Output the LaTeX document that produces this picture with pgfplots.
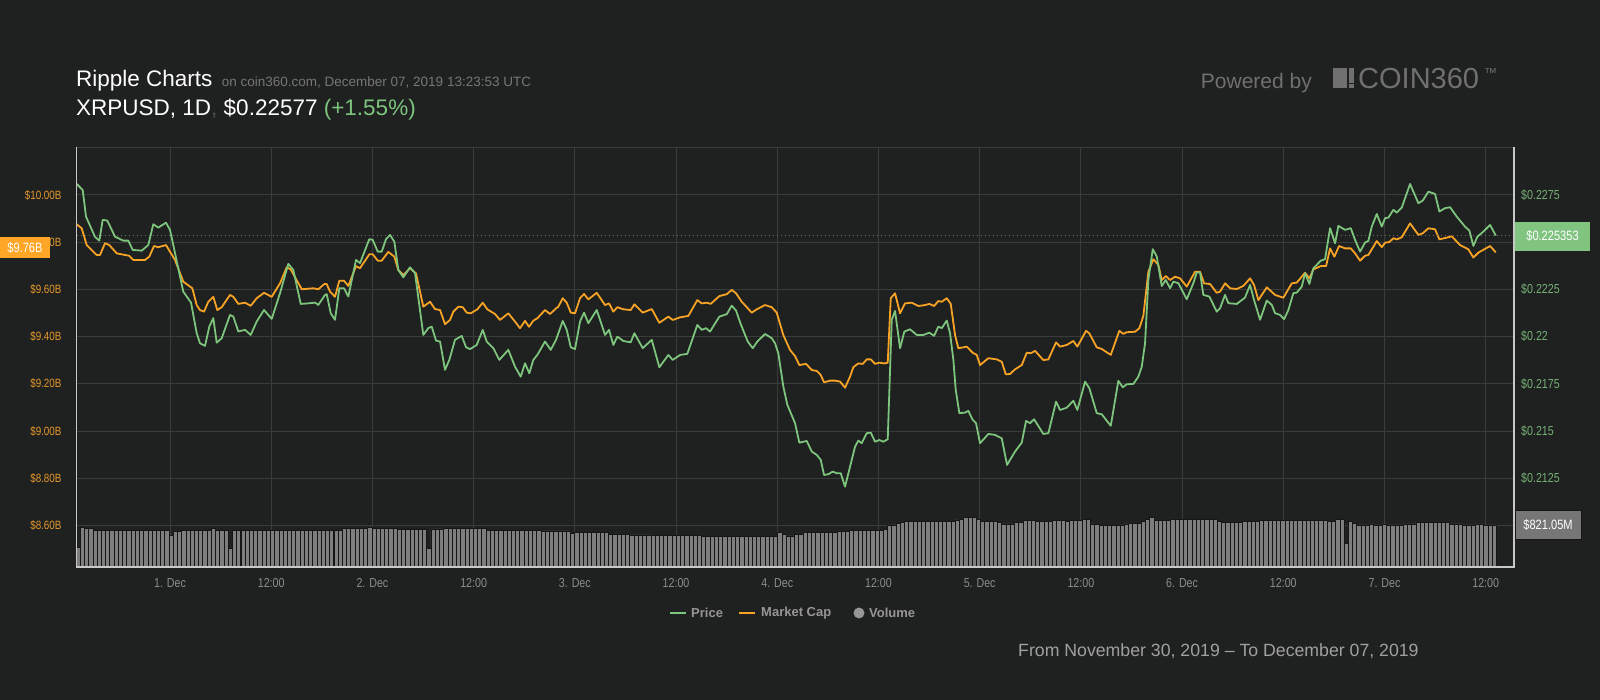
\documentclass[border=0pt]{standalone}
\usepackage{pgfplots}
\pgfplotsset{compat=1.18}
\usepackage{pgfplotstable}
\usepackage{fontspec}
\setmainfont{Liberation Sans}
\newfontfamily\cond[FakeStretch=0.82]{Liberation Sans}
\definecolor{bg}{RGB}{31,32,32}
\definecolor{gridc}{RGB}{58,59,59}
\definecolor{orangeL}{RGB}{247,163,38}
\definecolor{greenL}{RGB}{125,196,125}
\definecolor{orangeT}{RGB}{228,153,44}
\definecolor{greenT}{RGB}{118,178,118}
\definecolor{tickgray}{RGB}{140,140,140}
\definecolor{subgray}{RGB}{118,118,118}
\definecolor{logogray}{RGB}{112,112,112}
\definecolor{volgray}{RGB}{126,126,126}
\definecolor{axisc}{RGB}{200,200,200}
\definecolor{legc}{RGB}{150,150,150}
\definecolor{boxorange}{RGB}{255,166,38}
\definecolor{boxgreen}{RGB}{128,196,128}
\definecolor{boxgray}{RGB}{118,118,118}
\definecolor{dimc}{RGB}{80,80,80}
\definecolor{fromc}{RGB}{160,160,160}
\definecolor{dotc}{RGB}{110,110,110}
\definecolor{bardark}{RGB}{22,22,22}

\pgfplotstableread{
d p
0.5390 0.22808
0.5687 0.22776
0.5850 0.22635
0.6294 0.22528
0.6507 0.22508
0.6675 0.22618
0.6902 0.22614
0.7283 0.22529
0.7693 0.22508
0.7940 0.22508
0.8157 0.22459
0.8602 0.22455
0.8928 0.22485
0.9175 0.22595
0.9422 0.22577
0.9802 0.22603
1.0000 0.22565
1.0657 0.22238
1.1038 0.22180
1.1319 0.22018
1.1482 0.21965
1.1729 0.21951
1.1942 0.22053
1.2139 0.22098
1.2307 0.21968
1.2554 0.21992
1.2964 0.22115
1.3128 0.22106
1.3375 0.22027
1.3706 0.22036
1.3987 0.22009
1.4284 0.22080
1.4644 0.22141
1.5025 0.22094
1.5435 0.22230
1.5845 0.22385
1.6092 0.22353
1.6458 0.22173
1.6917 0.22177
1.7164 0.22180
1.7327 0.22168
1.7658 0.22221
1.7742 0.22225
1.7940 0.22124
1.8152 0.22089
1.8365 0.22256
1.8597 0.22256
1.8809 0.22212
1.9190 0.22406
1.9387 0.22389
1.9847 0.22516
2.0015 0.22512
2.0262 0.22450
2.0460 0.22450
2.0672 0.22516
2.0870 0.22538
2.1082 0.22503
2.1280 0.22353
2.1527 0.22314
2.1858 0.22367
2.2105 0.22336
2.2515 0.22009
2.2762 0.22045
2.2930 0.22053
2.3142 0.21979
2.3340 0.21974
2.3587 0.21824
2.3799 0.21877
2.4081 0.21983
2.4412 0.22004
2.4625 0.21944
2.4822 0.21934
2.5153 0.21956
2.5450 0.22036
2.5647 0.21974
2.5973 0.21939
2.6270 0.21877
2.6714 0.21930
2.7045 0.21841
2.7327 0.21788
2.7540 0.21859
2.7752 0.21806
2.7950 0.21877
2.8147 0.21903
2.8528 0.21974
2.8809 0.21930
2.9071 0.21983
2.9402 0.22083
2.9600 0.22036
2.9798 0.21944
3.0010 0.21934
3.0257 0.22080
3.0455 0.22127
3.0667 0.22071
3.1082 0.22141
3.1492 0.22009
3.1690 0.22036
3.1902 0.21956
3.2100 0.22000
3.2396 0.21977
3.2762 0.21970
3.2940 0.22018
3.3355 0.21939
3.3800 0.21983
3.4175 0.21838
3.4620 0.21903
3.4837 0.21877
3.5198 0.21903
3.5558 0.21909
3.6052 0.22062
3.6270 0.22036
3.6482 0.22045
3.6680 0.22027
3.7140 0.22106
3.7505 0.22119
3.7752 0.22164
3.7964 0.22138
3.8197 0.22066
3.8543 0.21974
3.8790 0.21939
3.9017 0.21974
3.9397 0.22014
3.9728 0.21992
3.9891 0.21965
4.0054 0.21912
4.0301 0.21736
4.0499 0.21639
4.0880 0.21542
4.1092 0.21439
4.1458 0.21448
4.1705 0.21392
4.1952 0.21374
4.2149 0.21348
4.2312 0.21268
4.2525 0.21272
4.2742 0.21286
4.2940 0.21277
4.3137 0.21277
4.3350 0.21206
4.3597 0.21312
4.3844 0.21418
4.4007 0.21450
4.4175 0.21436
4.4422 0.21489
4.4620 0.21492
4.4832 0.21444
4.5045 0.21453
4.5242 0.21444
4.5459 0.21457
4.5573 0.21824
4.5657 0.22089
4.5820 0.22136
4.6067 0.21939
4.6280 0.22027
4.6561 0.22039
4.6892 0.22009
4.7219 0.22009
4.7515 0.22021
4.7747 0.22004
4.7960 0.22053
4.8128 0.22045
4.8375 0.22085
4.8538 0.22018
4.8701 0.21877
4.8819 0.21718
4.8997 0.21595
4.9279 0.21598
4.9442 0.21607
4.9659 0.21559
4.9822 0.21542
5.0020 0.21436
5.0430 0.21485
5.0761 0.21480
5.1092 0.21462
5.1354 0.21321
5.1502 0.21348
5.1749 0.21392
5.2080 0.21439
5.2292 0.21554
5.2490 0.21542
5.2688 0.21563
5.3147 0.21485
5.3394 0.21489
5.3775 0.21656
5.3972 0.21612
5.4303 0.21624
5.4629 0.21661
5.4827 0.21612
5.5208 0.21762
5.5420 0.21727
5.5786 0.21595
5.6033 0.21589
5.6477 0.21528
5.6853 0.21766
5.7070 0.21732
5.7268 0.21748
5.7594 0.21750
5.7841 0.21788
5.8009 0.21841
5.8172 0.21965
5.8335 0.22300
5.8553 0.22463
5.8750 0.22424
5.8997 0.22268
5.9195 0.22300
5.9407 0.22256
5.9570 0.22291
5.9817 0.22283
6.0232 0.22198
6.0558 0.22283
6.0726 0.22339
6.0889 0.22339
6.1052 0.22221
6.1349 0.22212
6.1714 0.22132
6.1877 0.22150
6.2125 0.22221
6.2288 0.22177
6.2703 0.22173
6.3113 0.22207
6.3360 0.22274
6.3557 0.22194
6.3854 0.22089
6.4185 0.22191
6.4432 0.22168
6.4595 0.22124
6.4842 0.22115
6.5040 0.22092
6.5252 0.22141
6.5499 0.22230
6.5667 0.22233
6.5914 0.22265
6.6077 0.22336
6.6290 0.22279
6.6487 0.22362
6.6853 0.22402
6.7065 0.22410
6.7312 0.22574
6.7559 0.22494
6.7722 0.22586
6.8053 0.22565
6.8335 0.22574
6.8547 0.22512
6.8794 0.22450
6.9042 0.22498
6.9205 0.22507
6.9372 0.22582
6.9620 0.22649
6.9867 0.22582
7.0030 0.22627
7.0193 0.22630
7.0440 0.22671
7.0608 0.22656
7.0855 0.22683
7.1265 0.22808
7.1675 0.22706
7.1892 0.22720
7.2169 0.22767
7.2500 0.22755
7.2712 0.22662
7.2994 0.22680
7.3241 0.22685
7.3572 0.22635
7.3982 0.22582
7.4195 0.22561
7.4392 0.22480
7.4590 0.22529
7.4886 0.22556
7.5217 0.22591
7.5499 0.22535
}\pricetab

\pgfplotstableread{
d m
0.5390 9.876
0.5637 9.859
0.5884 9.788
0.6378 9.746
0.6542 9.746
0.6789 9.796
0.7001 9.788
0.7367 9.753
0.7777 9.746
0.7974 9.743
0.8187 9.725
0.8765 9.725
0.8977 9.739
0.9209 9.784
0.9422 9.779
0.9802 9.788
1.0247 9.725
1.0657 9.633
1.1102 9.605
1.1319 9.534
1.1482 9.513
1.1680 9.506
1.1892 9.548
1.2139 9.569
1.2337 9.513
1.2554 9.525
1.2964 9.577
1.3128 9.569
1.3375 9.539
1.3706 9.544
1.3987 9.531
1.4284 9.563
1.4644 9.586
1.5025 9.569
1.5435 9.626
1.5766 9.694
1.5963 9.685
1.6507 9.601
1.7080 9.605
1.7327 9.601
1.7624 9.623
1.7742 9.623
1.7905 9.591
1.8152 9.569
1.8365 9.637
1.8597 9.637
1.8809 9.615
1.9190 9.699
1.9387 9.690
1.9847 9.749
2.0015 9.749
2.0262 9.722
2.0460 9.722
2.0785 9.759
2.1082 9.739
2.1280 9.682
2.1527 9.661
2.1858 9.690
2.2154 9.668
2.2515 9.527
2.2846 9.548
2.3093 9.517
2.3340 9.513
2.3587 9.453
2.3834 9.471
2.3997 9.506
2.4244 9.527
2.4461 9.525
2.4659 9.502
2.4857 9.499
2.5183 9.516
2.5450 9.544
2.5677 9.516
2.6058 9.496
2.6304 9.471
2.6714 9.499
2.7045 9.464
2.7292 9.436
2.7540 9.467
2.7737 9.442
2.7950 9.468
2.8147 9.478
2.8528 9.513
2.8775 9.496
2.9071 9.520
2.9185 9.527
2.9402 9.563
2.9600 9.544
2.9798 9.502
3.0010 9.499
3.0257 9.563
3.0455 9.581
3.0667 9.558
3.1082 9.586
3.1492 9.534
3.1690 9.541
3.1902 9.506
3.2100 9.525
3.2396 9.516
3.2762 9.513
3.2940 9.537
3.3355 9.502
3.3800 9.517
3.4175 9.459
3.4620 9.485
3.4837 9.471
3.5198 9.482
3.5608 9.488
3.6052 9.555
3.6270 9.541
3.6517 9.544
3.6714 9.539
3.7140 9.572
3.7505 9.580
3.7752 9.598
3.7964 9.584
3.8246 9.548
3.8740 9.502
3.8987 9.516
3.9397 9.534
3.9728 9.525
3.9975 9.502
4.0301 9.407
4.0632 9.344
4.0880 9.318
4.1092 9.280
4.1423 9.285
4.1705 9.259
4.1952 9.255
4.2149 9.238
4.2312 9.207
4.2609 9.214
4.2856 9.214
4.3103 9.210
4.3350 9.184
4.3597 9.231
4.3760 9.271
4.4007 9.287
4.4224 9.285
4.4422 9.304
4.4620 9.304
4.4832 9.285
4.5045 9.290
4.5277 9.287
4.5459 9.290
4.5608 9.563
4.5820 9.584
4.6067 9.499
4.6314 9.541
4.6645 9.544
4.6971 9.530
4.7303 9.534
4.7515 9.539
4.7747 9.530
4.7960 9.551
4.8128 9.548
4.8375 9.563
4.8572 9.539
4.8785 9.407
4.8948 9.351
4.9362 9.358
4.9659 9.332
4.9857 9.323
5.0020 9.280
5.0430 9.309
5.0845 9.304
5.1092 9.294
5.1290 9.241
5.1502 9.242
5.1749 9.262
5.2080 9.280
5.2327 9.332
5.2525 9.330
5.2737 9.340
5.3147 9.301
5.3394 9.304
5.3775 9.376
5.3972 9.358
5.4303 9.365
5.4629 9.382
5.4827 9.358
5.5257 9.425
5.5420 9.414
5.5786 9.355
5.6033 9.348
5.6477 9.323
5.6902 9.425
5.7100 9.412
5.7268 9.419
5.7678 9.421
5.7890 9.436
5.8088 9.488
5.8335 9.675
5.8582 9.728
5.8829 9.704
5.8997 9.640
5.9195 9.657
5.9407 9.640
5.9654 9.654
5.9901 9.647
6.0232 9.612
6.0642 9.675
6.0889 9.675
6.1087 9.626
6.1383 9.623
6.1714 9.586
6.1877 9.591
6.2125 9.626
6.2372 9.605
6.2703 9.602
6.3029 9.615
6.3360 9.647
6.3557 9.619
6.3770 9.555
6.4185 9.609
6.4595 9.577
6.5005 9.565
6.5420 9.626
6.5667 9.629
6.6077 9.671
6.6290 9.647
6.6487 9.685
6.6853 9.699
6.7115 9.699
6.7312 9.774
6.7525 9.739
6.7757 9.784
6.8053 9.774
6.8335 9.774
6.8547 9.753
6.8794 9.722
6.9042 9.743
6.9205 9.746
6.9620 9.805
6.9867 9.779
7.0030 9.798
7.0242 9.801
7.0440 9.817
7.0608 9.812
7.0855 9.821
7.1265 9.880
7.1675 9.831
7.1892 9.838
7.2169 9.859
7.2500 9.855
7.2712 9.812
7.3325 9.825
7.3735 9.788
7.4145 9.770
7.4392 9.735
7.4639 9.756
7.5217 9.784
7.5499 9.757
}\mctab

\pgfplotstableread[row sep=\\]{v\\
377\\768\\749\\749\\
723\\723\\723\\723\\723\\723\\723\\723\\723\\723\\723\\723\\723\\723\\723\\723\\
710\\710\\626\\690\\690\\
723\\723\\723\\723\\723\\723\\723\\
749\\723\\723\\723\\366\\
723\\723\\723\\723\\723\\723\\723\\
710\\710\\710\\710\\710\\
723\\723\\723\\723\\723\\723\\723\\723\\723\\723\\723\\723\\723\\723\\
749\\749\\749\\749\\762\\762\\782\\757\\757\\
749\\749\\749\\749\\
729\\729\\729\\729\\729\\729\\729\\
366\\743\\743\\743\\
749\\749\\749\\749\\749\\749\\749\\749\\749\\749\\
723\\723\\723\\723\\723\\
710\\710\\710\\710\\710\\710\\710\\710\\
704\\704\\704\\704\\704\\704\\704\\
651\\671\\680\\680\\680\\671\\671\\671\\671\\
645\\645\\645\\645\\645\\
626\\626\\626\\626\\626\\
612\\612\\612\\612\\612\\612\\612\\612\\612\\612\\612\\612\\
592\\592\\592\\592\\592\\592\\592\\592\\592\\592\\592\\592\\592\\592\\592\\592\\592\\592\\
671\\631\\606\\606\\645\\645\\
671\\671\\671\\671\\671\\671\\671\\671\\
690\\690\\690\\
710\\710\\710\\710\\710\\710\\710\\710\\
729\\821\\821\\854\\870\\
886\\886\\886\\886\\886\\886\\886\\886\\886\\886\\886\\886\\
919\\938\\964\\964\\964\\925\\
886\\886\\886\\886\\866\\841\\841\\841\\874\\874\\
905\\905\\905\\886\\886\\886\\886\\905\\905\\905\\886\\905\\905\\905\\
933\\933\\841\\835\\807\\807\\807\\807\\807\\821\\841\\
860\\860\\860\\899\\938\\964\\905\\905\\905\\905\\
925\\925\\925\\925\\925\\925\\925\\925\\925\\925\\925\\
899\\866\\866\\866\\866\\866\\886\\886\\886\\886\\
905\\905\\905\\905\\905\\905\\905\\905\\905\\905\\905\\905\\905\\905\\905\\905\\
899\\899\\925\\925\\463\\899\\854\\
821\\821\\821\\841\\821\\821\\841\\821\\821\\821\\821\\
841\\841\\841\\
866\\866\\866\\866\\866\\866\\866\\866\\
841\\841\\841\\821\\821\\821\\841\\841\\821\\821\\821\\
}\voltab

\pgfplotsset{base/.style={
  at={(76.7pt,133pt)}, anchor=south west, scale only axis,
  width=1437.3pt, height=419.7pt,
  xmin=0.539, xmax=7.640,
  axis line style={draw=none},
  major tick length=0pt,
}}

\begin{document}
\begin{tikzpicture}[x=1pt,y=1pt]
\fill[bg] (0,0) rectangle (1600,700);

% market cap axis (left) with grid
\begin{axis}[base,
  ymin=8.425, ymax=10.202,
  xtick={1,1.5,2,2.5,3,3.5,4,4.5,5,5.5,6,6.5,7,7.5},
  xticklabels={1. Dec,12:00,2. Dec,12:00,3. Dec,12:00,4. Dec,12:00,5. Dec,12:00,6. Dec,12:00,7. Dec,12:00},
  xtick pos=bottom,
  xticklabel style={font=\cond\fontsize{13}{15}\selectfont, text=tickgray, anchor=center, inner sep=0pt, yshift=-16pt},
  ytick={8.6,8.8,9.0,9.2,9.4,9.6,9.8,10.0},
  yticklabels={\$8.60B,\$8.80B,\$9.00B,\$9.20B,\$9.40B,\$9.60B,\$9.80B,\$10.00B},
  ytick pos=left,
  yticklabel style={font=\cond\fontsize{12}{14}\selectfont, text=orangeT, anchor=east, inner sep=0pt, xshift=-15pt},
  grid=major, major grid style={draw=gridc, line width=1pt},
]
\addplot[orangeL, line width=1.8pt, line join=round] table[x=d,y=m]{\mctab};
\end{axis}

% volume axis
\begin{axis}[base, ymin=0, ymax=8205, xtick=\empty, ytick=\empty]
\addplot[ybar, bar shift=0pt, bar width=0.0209, fill=volgray, draw=bardark, line width=0.5pt]
  table[x expr=0.54545+\coordindex*0.020884, y=v]{\voltab};
\end{axis}

% price axis (right)
\begin{axis}[base,
  ymin=0.20781, ymax=0.23002,
  xtick=\empty,
  ytick={0.2125,0.215,0.2175,0.22,0.2225,0.2275},
  yticklabels={\$0.2125,\$0.215,\$0.2175,\$0.22,\$0.2225,\$0.2275},
  ytick pos=right,
  yticklabel style={font=\cond\fontsize{13}{15}\selectfont, text=greenT, anchor=west, inner sep=0pt, xshift=7pt},
]
\addplot[dotc, line width=0.8pt, dash pattern=on 1pt off 3pt] coordinates {(0.539,0.225353) (7.640,0.225353)};
\addplot[greenL, line width=1.8pt, line join=round] table[x=d,y=p]{\pricetab};
\end{axis}

% frame
\draw[gridc, line width=1pt] (76.7,552.7) -- (1514,552.7);
\draw[axisc, line width=1.3pt] (76.7,552.7) -- (76.7,133) -- (1514,133) -- (1514,552.7);

% current value boxes
\node[fill=boxorange, minimum width=50pt, minimum height=21pt, inner sep=0pt, text=white,
  font=\cond\fontsize{13.5}{15}\selectfont] at (25,452.5) {\$9.76B};
\node[fill=boxgreen, minimum width=75pt, minimum height=29.3pt, inner sep=0pt, text=white,
  font=\cond\fontsize{13.5}{15}\selectfont] at (1552.5,463.6) {\$0.225353};
\node[fill=boxgray, draw=bardark, minimum width=66pt, minimum height=29pt, inner sep=0pt, text=white,
  font=\cond\fontsize{13.5}{15}\selectfont] at (1548,175.5) {\$821.05M};

% titles
\node[anchor=base west, inner sep=0pt, text=white, font=\fontsize{22.5}{26}\selectfont] at (76,613.3) {Ripple Charts};
\node[anchor=base west, inner sep=0pt, text=subgray, font=\fontsize{13.5}{16}\selectfont] at (221.7,613.3) {on coin360.com, December 07, 2019 13:23:53 UTC};
\node[anchor=base west, inner sep=0pt, font=\fontsize{22.5}{26}\selectfont] at (76,584.3)
  {\textcolor{white}{XRPUSD, 1D}\textcolor{dimc}{,}\ \textcolor{white}{\$0.22577}\ \textcolor{greenL}{(+1.55\%)}};

% powered by
\node[anchor=base west, inner sep=0pt, text=logogray, font=\fontsize{21}{24}\selectfont] at (1200.7,611.7) {Powered by};
\fill[logogray] (1332.7,612.3) rectangle (1347.3,631.7);
\fill[logogray] (1349,617.3) rectangle (1353.7,631.7);
\fill[logogray] (1349,612.3) rectangle (1353.7,615.7);
\node[anchor=base west, inner sep=0pt, text=logogray, font=\fontsize{29}{32}\selectfont] at (1358,611.7) {COIN360};
\node[anchor=north west, inner sep=0pt, text=logogray, font=\fontsize{13}{14}\selectfont] at (1484,632) {™};

% legend
\draw[greenL, line width=2pt] (670,87) -- (686,87);
\node[anchor=west, inner sep=0pt, text=legc, font=\bfseries\fontsize{13}{15}\selectfont] at (691,87) {Price};
\draw[orangeL, line width=2pt] (739,87) -- (755,87);
\node[anchor=west, inner sep=0pt, text=legc, font=\bfseries\fontsize{13}{15}\selectfont] at (761,87) {Market Cap};
\fill[legc] (859,87) circle (5.5);
\node[anchor=west, inner sep=0pt, text=legc, font=\bfseries\fontsize{13}{15}\selectfont] at (869,87) {Volume};

% date range
\node[anchor=west, inner sep=0pt, text=fromc, font=\fontsize{17.7}{20}\selectfont] at (1018,49) {From November 30, 2019 – To December 07, 2019};

\pgfresetboundingbox
\useasboundingbox (0,0) rectangle (1600,700);
\end{tikzpicture}
\end{document}
